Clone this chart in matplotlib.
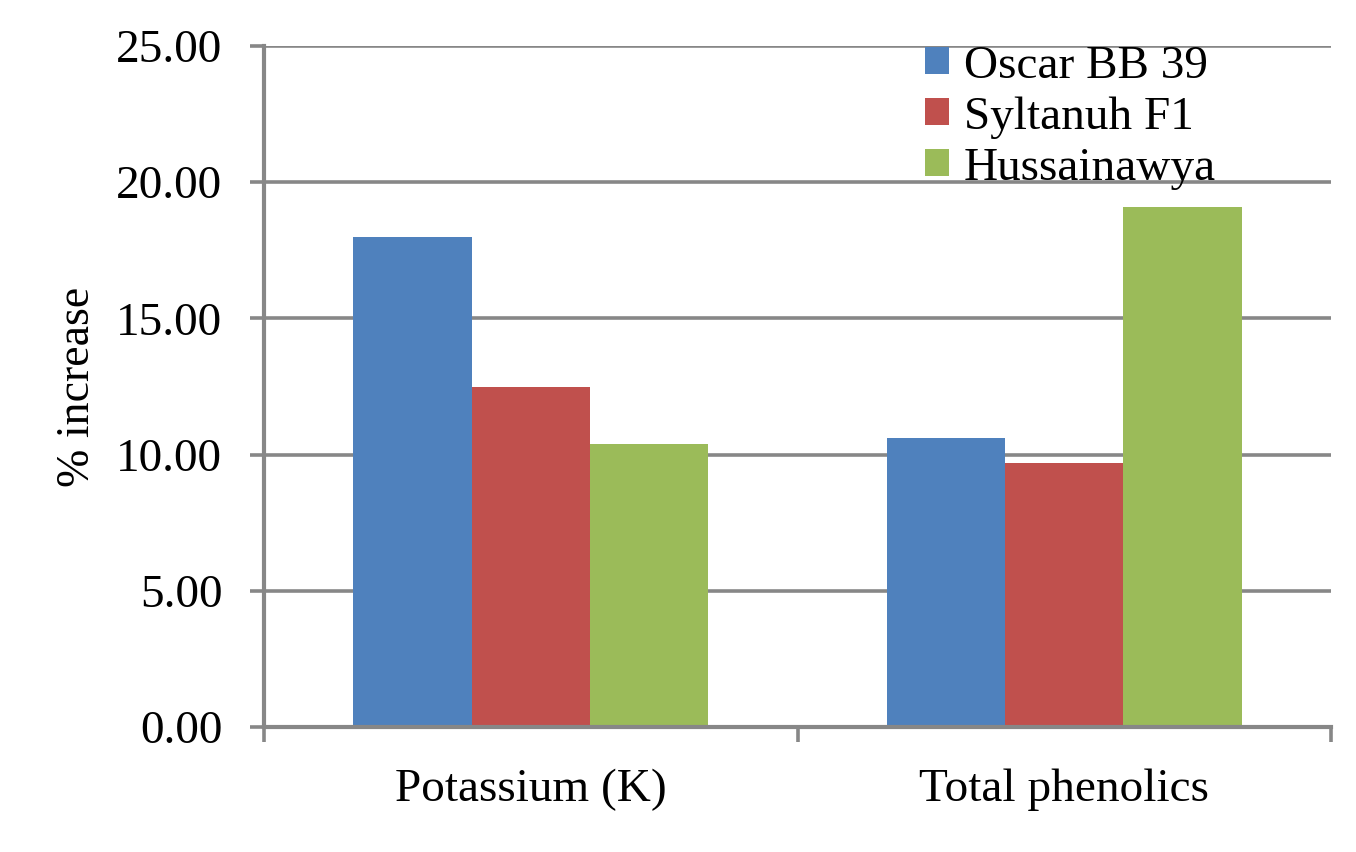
import numpy as np
import matplotlib
matplotlib.use("Agg")
import matplotlib.pyplot as plt
from matplotlib.ticker import FixedLocator

plt.rcParams['font.family'] = ['Liberation Serif', 'DejaVu Serif']

categories = ['Potassium (K)', 'Total phenolics']
series = ['Oscar BB 39', 'Syltanuh F1', 'Hussainawya']
oscar = [18.0, 10.6]
syltanuh = [12.5, 9.7]
hussainawya = [10.4, 19.1]
colors = ['#4F81BD', '#C0504D', '#9BBB59']
yticks = [0, 5, 10, 15, 20, 25]

fig = plt.figure(figsize=(13.56, 8.52), dpi=100)
ax = fig.add_axes([0.1947, 0.1467, 0.9816 - 0.1947, 0.946 - 0.1467])

x = np.arange(len(categories))
w = 0.2217
for i, (vals, name) in enumerate(zip([oscar, syltanuh, hussainawya], series)):
    ax.bar(x + (i - 1) * w, vals, width=w, color=colors[i], label=name, zorder=3)

ax.set_xlim(-0.5, 1.5)
ax.set_ylim(0, 25)
ax.set_yticks(yticks)
ax.set_yticklabels([f'{v:.2f}' for v in yticks])
ax.set_xticks(x)
ax.set_xticklabels(categories)
ax.xaxis.set_minor_locator(FixedLocator([-0.5, 0.5, 1.5]))

gray = '#878787'
ax.yaxis.grid(True, color=gray, linewidth=2.6, zorder=0)
ax.set_axisbelow(True)
for s in ['top', 'right']:
    ax.spines[s].set_visible(False)
for s in ['left', 'bottom']:
    ax.spines[s].set_color(gray)
    ax.spines[s].set_linewidth(3)
    ax.spines[s].set_zorder(4)

ax.tick_params(axis='y', length=10, width=2.6, color=gray, labelsize=34, pad=20)
ax.tick_params(axis='x', which='major', length=0, labelsize=34, pad=30)
ax.tick_params(axis='x', which='minor', length=11, width=2.6, color=gray, direction='out')

ax.set_ylabel('% increase', fontsize=33, labelpad=12)

fig.legend(loc='upper left', bbox_to_anchor=(892 / 1356, 1 - 12 / 852),
           frameon=False, fontsize=34, handlelength=0.5, handleheight=0.5,
           handletextpad=0.32, labelspacing=0.18, borderpad=0.2)

fig.savefig('out.png', dpi=100)
